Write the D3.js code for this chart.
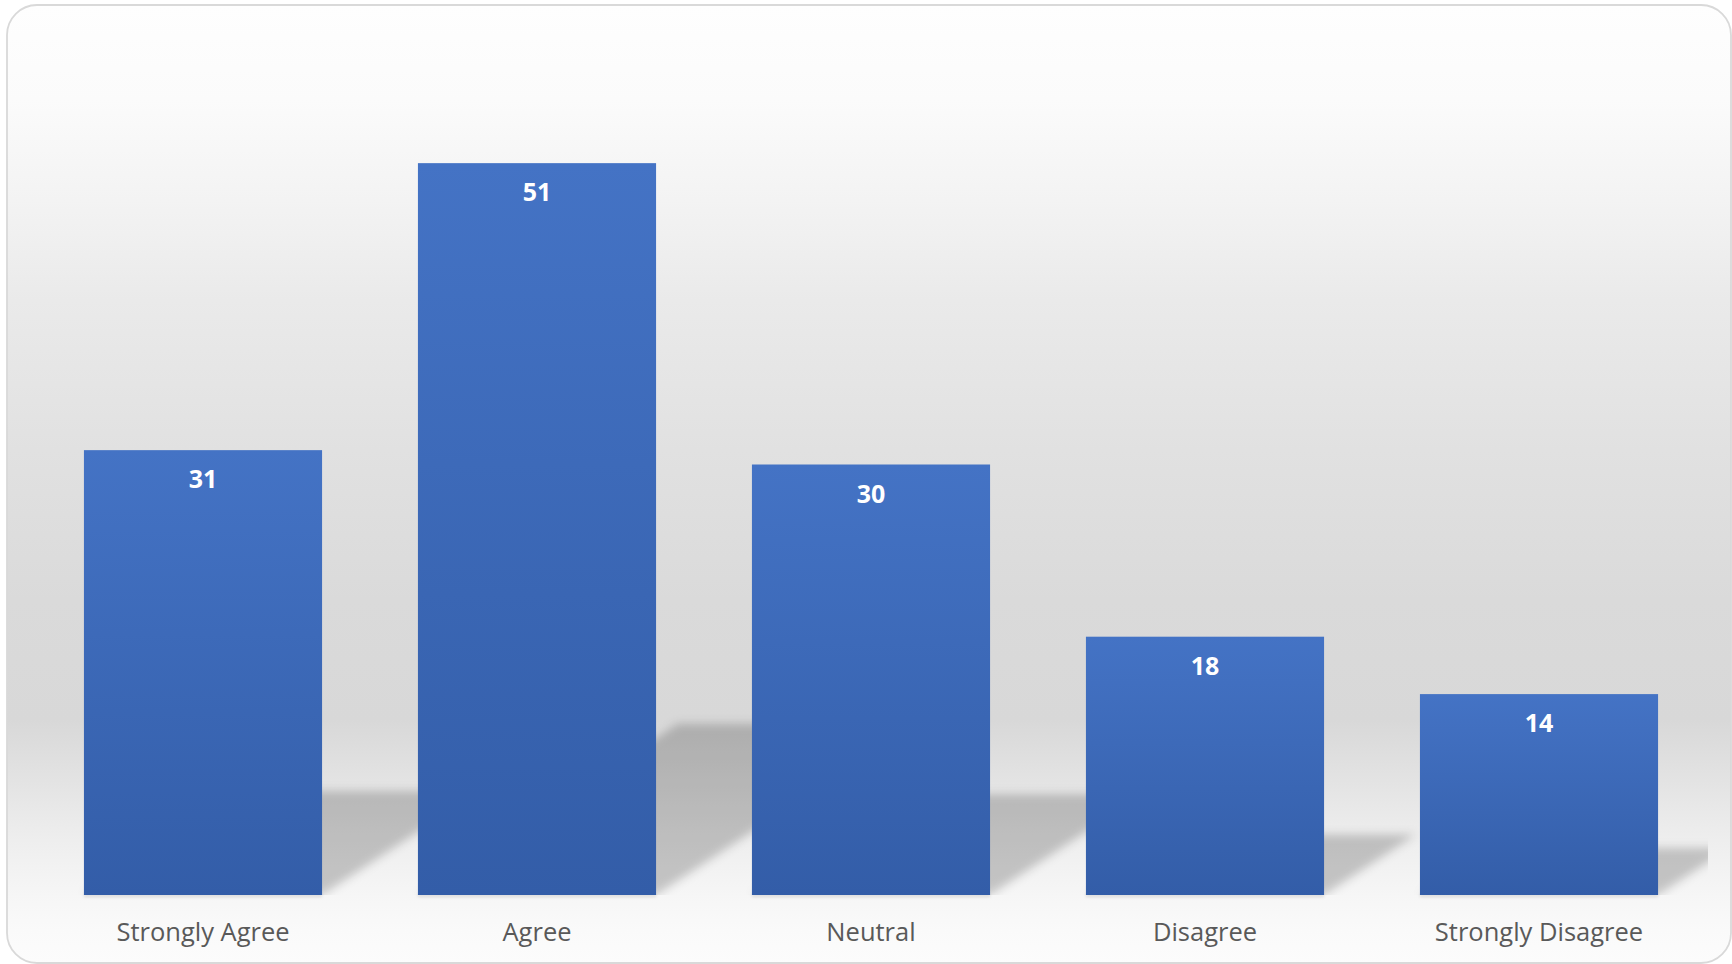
<!DOCTYPE html>
<html><head><meta charset="utf-8">
<script src="https://cdn.jsdelivr.net/npm/d3@7"></script>
<style>html,body{margin:0;padding:0;background:#fff;overflow:hidden}</style>
</head><body><svg id="chart" width="1732" height="964"></svg>
<script>
const categories = ["Strongly Agree", "Agree", "Neutral", "Disagree", "Strongly Disagree"];
const values = [31, 51, 30, 18, 14];
const yDomain = [0, 60];

const W = 1732, H = 964;
const svg = d3.select("#chart");
const defs = svg.append("defs");

// chart background gradient
const bgStops = [
  [5, "#fefefe"], [100, "#fbfbfb"], [200, "#f3f3f3"], [300, "#eaeaea"],
  [450, "#e1e1e1"], [600, "#dadada"], [720, "#d8d8d8"], [780, "#e3e3e3"],
  [840, "#eeeeee"], [895, "#f6f6f6"], [930, "#fafafa"], [963, "#fcfcfc"]
];
const bg = defs.append("linearGradient").attr("id", "bgGrad")
  .attr("gradientUnits", "userSpaceOnUse")
  .attr("x1", 0).attr("y1", 5).attr("x2", 0).attr("y2", 963);
bgStops.forEach(([y, c]) => bg.append("stop").attr("offset", (y - 5) / 958).attr("stop-color", c));

const barGrad = defs.append("linearGradient").attr("id", "barGrad")
  .attr("x1", 0).attr("y1", 0).attr("x2", 0).attr("y2", 1);
barGrad.append("stop").attr("offset", 0).attr("stop-color", "#4473c5");
barGrad.append("stop").attr("offset", 1).attr("stop-color", "#335da8");

const blur = defs.append("filter").attr("id", "shBlur")
  .attr("x", "-20%").attr("y", "-20%").attr("width", "140%").attr("height", "140%");
blur.append("feGaussianBlur").attr("stdDeviation", 5);

const blur2 = defs.append("filter").attr("id", "btmBlur")
  .attr("x", "-5%").attr("y", "-200%").attr("width", "110%").attr("height", "500%");
blur2.append("feGaussianBlur").attr("stdDeviation", 1.5);

// plot area
const plot = { left: 36, right: 1706, top: 34, bottom: 895 };
defs.append("clipPath").attr("id", "plotClip").append("rect")
  .attr("x", plot.left).attr("y", plot.top)
  .attr("width", 1708 - plot.left).attr("height", plot.bottom - plot.top);

// chart area
svg.append("rect").attr("x", 7).attr("y", 5).attr("width", 1724).attr("height", 958)
  .attr("rx", 30).attr("ry", 30)
  .attr("fill", "url(#bgGrad)").attr("stroke", "#d9d9d9").attr("stroke-width", 1.8);

const x = d3.scaleBand().domain(categories).range([plot.left, plot.right])
  .paddingInner(0.287).paddingOuter(0.1435);
const y = d3.scaleLinear().domain(yDomain).range([plot.bottom, plot.top]);

const data = categories.map((c, i) => ({ c, v: values[i] }));

// perspective shadows (diagonal upper right)
const shY = 0.234, shX = 0.355;
svg.append("g").attr("clip-path", "url(#plotClip)")
  .append("g").attr("filter", "url(#shBlur)")
  .selectAll("polygon").data(data).join("polygon")
  .attr("points", d => {
    const x0 = x(d.c), x1 = x(d.c) + x.bandwidth();
    const b = y(0), h = y(0) - y(d.v);
    const hs = h * shY, dx = h * shX;
    return [[x0, b], [x1, b], [x1 + dx, b - hs], [x0 + dx, b - hs]].map(p => p.join(",")).join(" ");
  })
  .attr("fill", "#000").attr("fill-opacity", 0.2);

// faint line under bars
svg.append("g").attr("filter", "url(#btmBlur)").selectAll("rect").data(data).join("rect")
  .attr("x", d => x(d.c)).attr("y", y(0) - 1).attr("width", x.bandwidth()).attr("height", 3)
  .attr("fill", "#000").attr("fill-opacity", 0.12);

// bars
svg.append("g").selectAll("rect").data(data).join("rect")
  .attr("x", d => x(d.c)).attr("y", d => y(d.v))
  .attr("width", x.bandwidth()).attr("height", d => y(0) - y(d.v))
  .attr("fill", "url(#barGrad)");

// value labels
svg.append("g").selectAll("text").data(data).join("text")
  .attr("x", d => x(d.c) + x.bandwidth() / 2).attr("y", d => y(d.v) + 38)
  .attr("text-anchor", "middle")
  .attr("font-family", "'Open Sans', 'Noto Sans', sans-serif")
  .attr("font-weight", 700).attr("font-size", 25).attr("fill", "#ffffff")
  .text(d => d.v);

// category axis
const xAxis = svg.append("g").attr("transform", `translate(0,${plot.bottom})`)
  .call(d3.axisBottom(x).tickSize(0).tickPadding(0));
xAxis.select(".domain").remove();
xAxis.selectAll("text")
  .attr("y", 46).attr("dy", null)
  .attr("font-family", "'Open Sans', 'Noto Sans', sans-serif")
  .attr("font-size", 25.5).attr("fill", "#595959");
</script>
</body></html>
